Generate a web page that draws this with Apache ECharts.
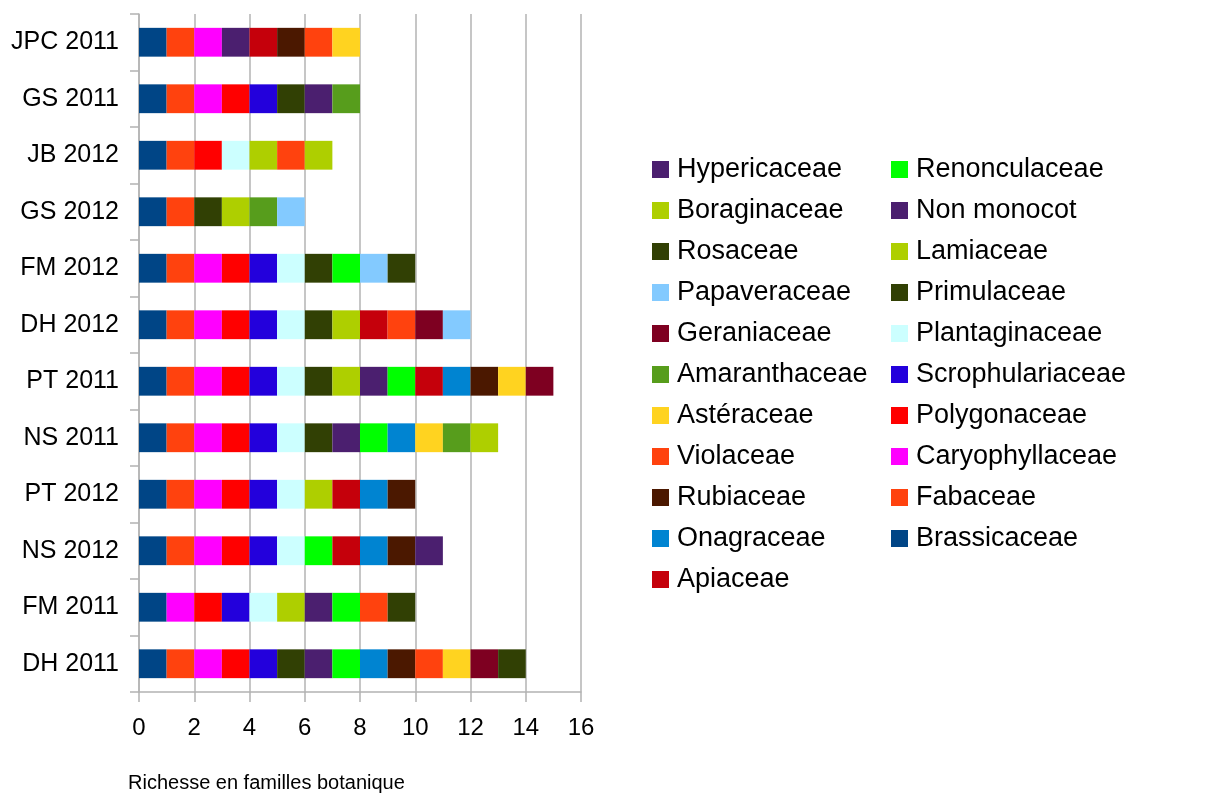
<!DOCTYPE html>
<html>
<head>
<meta charset="utf-8">
<title>Richesse en familles botanique</title>
<script src="https://cdn.jsdelivr.net/npm/echarts@6/dist/echarts.min.js"></script>
<style>
  html, body { margin: 0; padding: 0; background: #fff; }
  #chart { width: 1211px; height: 796px; }
</style>
</head>
<body>
<div id="chart"></div>
<script>
// sites, top to bottom
const sites = ['JPC 2011', 'GS 2011', 'JB 2012', 'GS 2012', 'FM 2012', 'DH 2012',
  'PT 2011', 'NS 2011', 'PT 2012', 'NS 2012', 'FM 2011', 'DH 2011']

// one value per site (same order as sites), in stacking order
const brassicaceae     = [1, 1, 1, 1, 1, 1, 1, 1, 1, 1, 1, 1]
const fabaceae         = [1, 1, 1, 1, 1, 1, 1, 1, 1, 1, 0, 1]
const caryophyllaceae  = [1, 1, 0, 0, 1, 1, 1, 1, 1, 1, 1, 1]
const polygonaceae     = [0, 1, 1, 0, 1, 1, 1, 1, 1, 1, 1, 1]
const scrophulariaceae = [0, 1, 0, 0, 1, 1, 1, 1, 1, 1, 1, 1]
const plantaginaceae   = [0, 0, 1, 0, 1, 1, 1, 1, 1, 1, 1, 0]
const primulaceae      = [0, 1, 0, 1, 1, 1, 1, 1, 0, 0, 0, 1]
const lamiaceae        = [0, 0, 1, 1, 0, 1, 1, 0, 1, 0, 1, 0]
const nonMonocot       = [1, 1, 0, 0, 0, 0, 1, 1, 0, 0, 1, 1]
const renonculaceae    = [0, 0, 0, 0, 1, 0, 1, 1, 0, 1, 1, 1]
const apiaceae         = [1, 0, 0, 0, 0, 1, 1, 0, 1, 1, 0, 0]
const onagraceae       = [0, 0, 0, 0, 0, 0, 1, 1, 1, 1, 0, 1]
const rubiaceae        = [1, 0, 0, 0, 0, 0, 1, 0, 1, 1, 0, 1]
const violaceae        = [1, 0, 1, 0, 0, 1, 0, 0, 0, 0, 1, 1]
const asteraceae       = [1, 0, 0, 0, 0, 0, 1, 1, 0, 0, 0, 1]
const amaranthaceae    = [0, 1, 0, 1, 0, 0, 0, 1, 0, 0, 0, 0]
const geraniaceae      = [0, 0, 0, 0, 0, 1, 1, 0, 0, 0, 0, 1]
const papaveraceae     = [0, 0, 0, 1, 1, 1, 0, 0, 0, 0, 0, 0]
const rosaceae         = [0, 0, 0, 0, 1, 0, 0, 0, 0, 0, 1, 1]
const boraginaceae     = [0, 0, 1, 0, 0, 0, 0, 1, 0, 0, 0, 0]
const hypericaceae     = [0, 0, 0, 0, 0, 0, 0, 0, 0, 1, 0, 0]

const families = ['Brassicaceae', 'Fabaceae', 'Caryophyllaceae', 'Polygonaceae',
  'Scrophulariaceae', 'Plantaginaceae', 'Primulaceae', 'Lamiaceae', 'Non monocot',
  'Renonculaceae', 'Apiaceae', 'Onagraceae', 'Rubiaceae', 'Violaceae', 'Astéraceae',
  'Amaranthaceae', 'Geraniaceae', 'Papaveraceae', 'Rosaceae', 'Boraginaceae', 'Hypericaceae']

const familyValues = [brassicaceae, fabaceae, caryophyllaceae, polygonaceae,
  scrophulariaceae, plantaginaceae, primulaceae, lamiaceae, nonMonocot,
  renonculaceae, apiaceae, onagraceae, rubiaceae, violaceae, asteraceae,
  amaranthaceae, geraniaceae, papaveraceae, rosaceae, boraginaceae, hypericaceae]

const familyColors = ['#004586', '#ff420e', '#ff00ff', '#ff0000', '#2300dc', '#ccffff',
  '#314004', '#aecf00', '#4b1f6f', '#00ff00', '#c5000b', '#0084d1', '#4b1800',
  '#ff420e', '#ffd320', '#579d1c', '#7e0021', '#83caff', '#314004', '#aecf00', '#4b1f6f']

const xTicks = { min: 0, max: 16, interval: 2 }

// legend is shown reversed, in two columns
const legendOrder = families.slice().reverse()
const legendLeftCol = legendOrder.slice(0, 11)
const legendRightCol = legendOrder.slice(11)

const FONT = '"Liberation Sans", Arial, sans-serif'
const GRAY = '#b3b3b3'

const chart = echarts.init(document.getElementById('chart'))

function legendCol(data, left) {
  return {
    data: data,
    orient: 'vertical',
    left: left,
    top: 156,
    padding: 0,
    itemWidth: 17,
    itemHeight: 17,
    itemGap: 14,
    icon: 'rect',
    selectedMode: false,
    textStyle: { fontFamily: FONT, fontSize: 27, color: '#000', padding: [0, 0, 0, 3] }
  }
}

chart.setOption({
  animation: false,
  title: {
    text: 'Richesse en familles botanique',
    left: 128,
    top: 773,
    padding: 0,
    textStyle: { fontFamily: FONT, fontSize: 20, fontWeight: 'normal', color: '#000' }
  },
  legend: [legendCol(legendLeftCol, 652), legendCol(legendRightCol, 891)],
  grid: { left: 139, right: 630, top: 14, bottom: 104 },
  xAxis: {
    type: 'value',
    min: xTicks.min,
    max: xTicks.max,
    interval: xTicks.interval,
    axisLine: { show: true, lineStyle: { color: GRAY, width: 1.5 } },
    axisTick: { show: true, length: 10, lineStyle: { color: GRAY, width: 1.5 } },
    splitLine: { show: true, lineStyle: { color: GRAY, width: 1.5 } },
    axisLabel: { fontFamily: FONT, fontSize: 24, color: '#000', margin: 24 }
  },
  yAxis: {
    type: 'category',
    data: sites,
    inverse: true,
    axisLine: { show: true, lineStyle: { color: GRAY, width: 1.5 } },
    axisTick: { show: true, length: 9, lineStyle: { color: GRAY, width: 1.5 } },
    splitLine: { show: false },
    axisLabel: { fontFamily: FONT, fontSize: 25, color: '#000', margin: 20 }
  },
  series: families.map((name, i) => ({
    name: name,
    type: 'bar',
    stack: 'total',
    barWidth: '51%',
    itemStyle: { color: familyColors[i] },
    data: familyValues[i]
  }))
})
</script>
</body>
</html>
